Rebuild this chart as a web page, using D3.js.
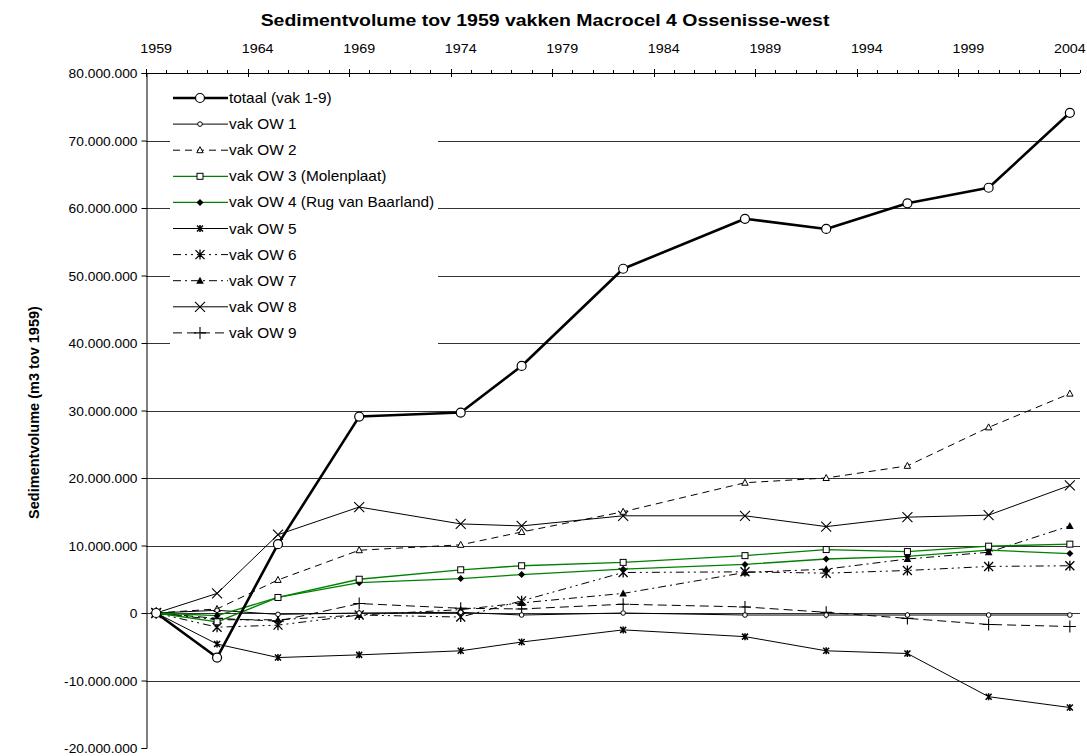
<!DOCTYPE html>
<html><head><meta charset="utf-8">
<script src="https://cdn.jsdelivr.net/npm/d3@7"></script>
<style>
html,body{margin:0;padding:0;background:#fff;}
text{font-family:"Liberation Sans",Arial,sans-serif;fill:#000;}
</style></head>
<body><svg id="c" width="1087" height="756"></svg>
<script>
// ---- data (values in millions of m3) ----
const years = [1959,1962,1965,1969,1974,1977,1982,1988,1992,1996,2000,2004];
const totaal = [0,-6.6,10.2,29.1,29.7,36.6,51.0,58.4,56.9,60.7,63.0,74.1];
const ow1 = [0,0.4,-0.2,0,0.1,-0.3,0,-0.3,-0.3,-0.3,-0.3,-0.3];
const ow2 = [0,0.6,4.9,9.3,10.1,12.0,15.0,19.3,20.0,21.8,27.5,32.5];
const ow3 = [0,-1.3,2.3,5.0,6.4,7.0,7.5,8.5,9.4,9.1,9.9,10.2];
const ow4 = [0,-0.4,2.3,4.5,5.1,5.7,6.5,7.2,8.0,8.4,9.3,8.8];
const ow5 = [0,-4.6,-6.6,-6.2,-5.6,-4.3,-2.5,-3.5,-5.6,-6.0,-12.4,-14.0];
const ow6 = [0,-2.1,-1.8,-0.3,-0.6,1.8,6.0,6.1,5.9,6.3,6.9,7.0];
const ow7 = [0,-1.0,-1.0,-0.3,0.5,1.5,2.9,6.0,6.5,8.0,9.0,12.9];
const ow8 = [0,2.9,11.6,15.7,13.2,12.9,14.4,14.4,12.8,14.2,14.5,18.9];
const ow9 = [0,-0.8,-1.2,1.4,0.7,0.6,1.3,0.9,0.1,-0.8,-1.7,-2.0];
const seriesNames = ["totaal (vak 1-9)","vak OW 1","vak OW 2","vak OW 3 (Molenplaat)","vak OW 4 (Rug van Baarland)","vak OW 5","vak OW 6","vak OW 7","vak OW 8","vak OW 9"];
const xLabels = [1959,1964,1969,1974,1979,1984,1989,1994,1999,2004];
const yTicks = [-20,-10,0,10,20,30,40,50,60,70,80];
const title = "Sedimentvolume tov 1959 vakken Macrocel 4 Ossenisse-west";
const yTitle = "Sedimentvolume (m3 tov 1959)";

const svg = d3.select("#c");
const L=146,R=1080,T=73,B=748;
const x = d3.scaleLinear().domain([1959,2005]).range([L,R]);
const y = d3.scaleLinear().domain([-20e6,80e6]).range([B,T]);
const px = yr => x(yr+0.5);

const loc = d3.formatLocale({decimal:",",thousands:".",grouping:[3],currency:["",""],minus:"-"});
const fmt = loc.format(",.0f");

function stext(parent, tx, ty, sx, str, size, anchor, bold){
  return parent.append("text").attr("transform",`translate(${tx},${ty}) scale(${sx},1)`)
    .attr("text-anchor",anchor).style("font-size",size+"px").style("font-weight",bold?"bold":"normal").text(str);
}

// gridlines
svg.append("g").selectAll("line").data(yTicks.filter(v=>v>-20 && v<80)).join("line")
  .attr("x1",L).attr("x2",R).attr("y1",d=>Math.round(y(d*1e6))+0.5).attr("y2",d=>Math.round(y(d*1e6))+0.5)
  .attr("stroke","#333").attr("stroke-width",1);

// y axis
const ya = d3.axisLeft(y).tickValues(yTicks.map(v=>v*1e6)).tickFormat(fmt).tickSize(5).tickPadding(4);
const yg = svg.append("g").attr("transform",`translate(${L+0.5},0)`).call(ya);
yg.select(".domain").attr("stroke","#000");
yg.selectAll("text").style("font-size","13px").attr("dy","0.36em").attr("x",-8.5).attr("transform","scale(1.06,1)");

// top x axis
const xg = svg.append("g");
xg.append("line").attr("x1",L).attr("x2",R).attr("y1",T+0.5).attr("y2",T+0.5).attr("stroke","#000");
const allYears = d3.range(1959,2006);
xg.selectAll("line.t").data(allYears).join("line").attr("class","t")
  .attr("x1",d=>Math.round(x(d))+0.5).attr("x2",d=>Math.round(x(d))+0.5)
  .attr("y1",d=>(d-1959)%5===0?T-4:T-3).attr("y2",d=>(d-1959)%5===0?T+4:T)
  .attr("stroke","#000");
xLabels.forEach(d=>stext(xg, px(d), T-20, 1.1, d, 13, "middle", false));

// titles
stext(svg, 545, 26, 1.18, title, 16.5, "middle", true);
svg.append("text").attr("transform",`translate(39,${(T+B)/2+2}) rotate(-90)`).attr("text-anchor","middle")
  .style("font-size","14.5px").style("font-weight","bold").text(yTitle);

// series styles
const allData = [totaal,ow1,ow2,ow3,ow4,ow5,ow6,ow7,ow8,ow9];
const styles = [
  {c:"#000",w:2.6,dash:null,m:"circleBig"},
  {c:"#000",w:1,dash:null,m:"circleSmall"},
  {c:"#000",w:1,dash:"7,5",m:"triOpen"},
  {c:"#008000",w:1.3,dash:null,m:"square"},
  {c:"#008000",w:1.3,dash:null,m:"diamond"},
  {c:"#000",w:1,dash:null,m:"starSmall"},
  {c:"#000",w:1,dash:"8,4,2,4,2,4",m:"star"},
  {c:"#000",w:1,dash:"8,4,2,4",m:"triFilled"},
  {c:"#000",w:1,dash:null,m:"cross"},
  {c:"#000",w:1,dash:"9,5",m:"plus"}
];

function marker(g,type,cx,cy){
  switch(type){
    case "circleBig": g.append("circle").attr("cx",cx).attr("cy",cy).attr("r",4.5).attr("fill","#fff").attr("stroke","#000").attr("stroke-width",1.2);break;
    case "circleSmall": g.append("circle").attr("cx",cx).attr("cy",cy).attr("r",2.3).attr("fill","#fff").attr("stroke","#000").attr("stroke-width",1);break;
    case "triOpen": g.append("path").attr("d",`M${cx},${cy-3.5}L${cx+3.2},${cy+2.5}L${cx-3.2},${cy+2.5}Z`).attr("fill","#fff").attr("stroke","#000").attr("stroke-width",1);break;
    case "triFilled": g.append("path").attr("d",`M${cx},${cy-4}L${cx+3.8},${cy+3}L${cx-3.8},${cy+3}Z`).attr("fill","#000");break;
    case "square": g.append("rect").attr("x",cx-3).attr("y",cy-3).attr("width",6).attr("height",6).attr("fill","#fff").attr("stroke","#000").attr("stroke-width",1);break;
    case "diamond": g.append("path").attr("d",`M${cx},${cy-3.5}L${cx+3.5},${cy}L${cx},${cy+3.5}L${cx-3.5},${cy}Z`).attr("fill","#000");break;
    case "starSmall": g.append("path").attr("d",`M${cx-3},${cy-3}L${cx+3},${cy+3}M${cx+3},${cy-3}L${cx-3},${cy+3}M${cx},${cy-3.5}L${cx},${cy+3.5}`).attr("stroke","#000").attr("stroke-width",1.5);break;
    case "star": g.append("path").attr("d",`M${cx-4.5},${cy-4.5}L${cx+4.5},${cy+4.5}M${cx+4.5},${cy-4.5}L${cx-4.5},${cy+4.5}M${cx},${cy-5}L${cx},${cy+5}`).attr("stroke","#000").attr("stroke-width",1.3);break;
    case "cross": g.append("path").attr("d",`M${cx-5},${cy-5}L${cx+5},${cy+5}M${cx+5},${cy-5}L${cx-5},${cy+5}`).attr("stroke","#000").attr("stroke-width",1.1);break;
    case "plus": g.append("path").attr("d",`M${cx-6},${cy}L${cx+6},${cy}M${cx},${cy-6}L${cx},${cy+6}`).attr("stroke","#000").attr("stroke-width",1.1);break;
  }
}

const line = d3.line().x((d,i)=>px(years[i])).y(d=>y(d*1e6));
const order = [9,8,7,6,5,2,1,4,3,0];
order.forEach(si=>{
  const st = styles[si];
  const g = svg.append("g");
  g.append("path").attr("d",line(allData[si])).attr("fill","none").attr("stroke",st.c)
    .attr("stroke-width",st.w).attr("stroke-dasharray",st.dash).attr("stroke-linejoin","round");
  allData[si].forEach((v,i)=>marker(g,st.m,px(years[i]),y(v*1e6)));
});

// legend
const lg = svg.append("g");
lg.append("rect").attr("x",170).attr("y",84).attr("width",268).attr("height",262).attr("fill","#fff");
seriesNames.forEach((n,i)=>{
  const st = styles[i];
  const cy = 98 + i*26.1;
  lg.append("line").attr("x1",173).attr("x2",228).attr("y1",cy).attr("y2",cy).attr("stroke",st.c)
    .attr("stroke-width",st.w).attr("stroke-dasharray",st.dash);
  marker(lg,st.m,200,cy);
  stext(lg, 229, cy+5, 1.1, n, 14, "start", false);
});
</script></body></html>
